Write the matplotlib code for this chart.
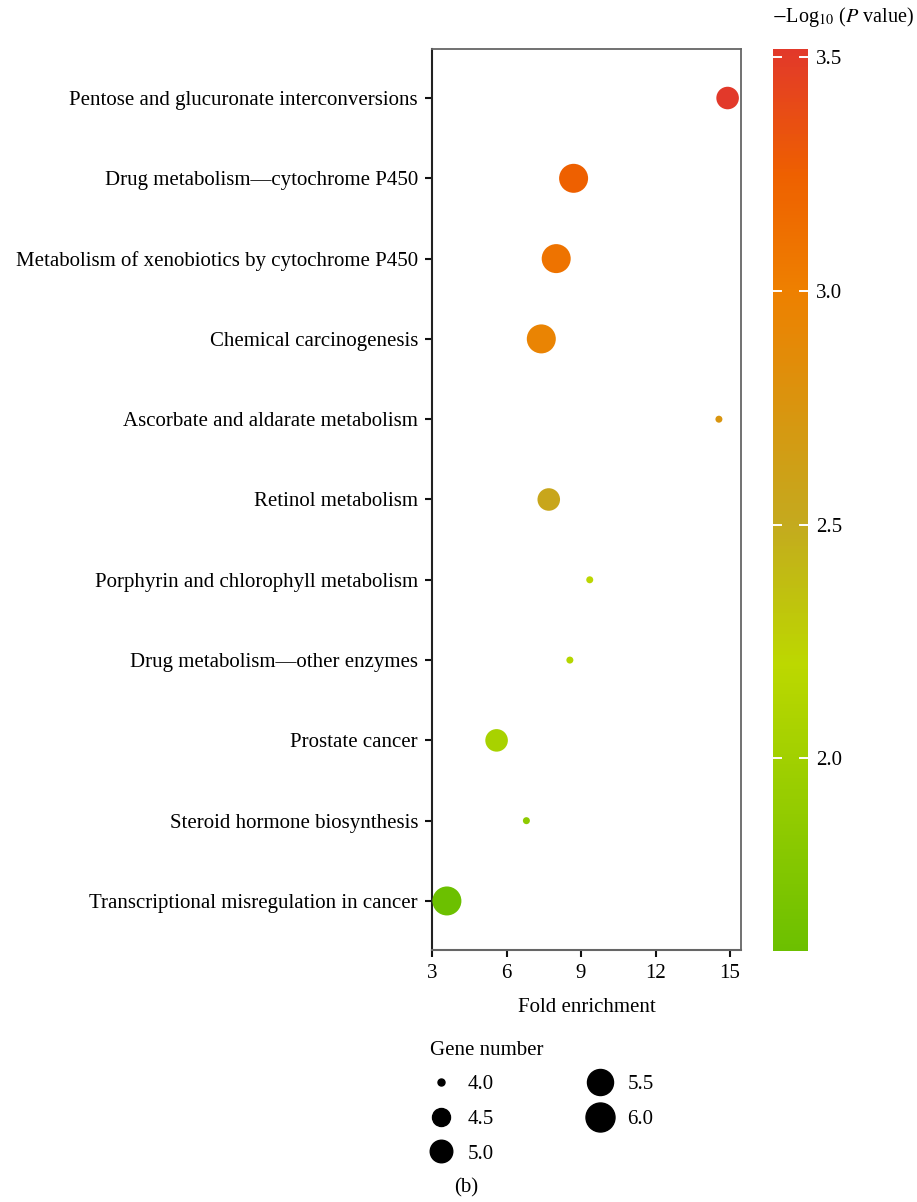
import numpy as np
import matplotlib.pyplot as plt
from matplotlib.colors import LinearSegmentedColormap, Normalize
from matplotlib.lines import Line2D

plt.rcParams['font.family'] = ['Liberation Serif', 'DejaVu Serif']
plt.rcParams['mathtext.fontset'] = 'stix'

pathways = [
    "Pentose and glucuronate interconversions",
    "Drug metabolism\u2014cytochrome P450",
    "Metabolism of xenobiotics by cytochrome P450",
    "Chemical carcinogenesis",
    "Ascorbate and aldarate metabolism",
    "Retinol metabolism",
    "Porphyrin and chlorophyll metabolism",
    "Drug metabolism\u2014other enzymes",
    "Prostate cancer",
    "Steroid hormone biosynthesis",
    "Transcriptional misregulation in cancer",
]
fold_enrichment = [14.9, 8.7, 8.0, 7.4, 14.55, 7.7, 9.35, 8.55, 5.6, 6.8, 3.6]
gene_number = [5, 6, 6, 6, 4, 5, 4, 4, 5, 4, 6]
neg_log_p = [3.517, 3.25, 3.1, 2.95, 2.75, 2.55, 2.22, 2.15, 2.05, 1.85, 1.588]

legend_sizes = [4.0, 4.5, 5.0, 5.5, 6.0]
cbar_ticks = [2.0, 2.5, 3.0, 3.5]
x_ticks = [3, 6, 9, 12, 15]

FS = 15


def marker_area(g, lo=4.0, hi=6.0):
    # area-style size scale: diameter in px grows with sqrt of the rescaled value
    d_px = 7 + 22 * np.sqrt((np.asarray(g, float) - lo) / (hi - lo))
    d_pt = d_px * 72 / 100
    return d_pt ** 2


vmin, vmax = min(neg_log_p), max(neg_log_p)
anchors = [(1.588, '#6cc000'), (2.2, '#bcd800'), (2.5, '#c4aa1e'),
           (3.0, '#ee8000'), (3.25, '#ee6000'), (3.517, '#e2392a')]
cmap = LinearSegmentedColormap.from_list(
    'pval', [((v - vmin) / (vmax - vmin), c) for v, c in anchors])
norm = Normalize(vmin=vmin, vmax=vmax)

fig = plt.figure(figsize=(9.17, 12.02), dpi=100)
ax = fig.add_axes([0.4711, 0.2097, 0.3370, 0.7495])

ypos = np.arange(len(pathways))[::-1]
sc = ax.scatter(fold_enrichment, ypos, s=marker_area(gene_number),
                c=neg_log_p, cmap=cmap, norm=norm, linewidths=0, zorder=3)

ax.set_xlim(3, 15.44)
ax.set_ylim(-0.61, len(pathways) - 1 + 0.61)
ax.set_xticks(x_ticks)
ax.set_yticks(ypos)
ax.set_yticklabels(pathways)
ax.tick_params(axis='both', labelsize=FS, length=5, width=1.5, color='#111')
ax.tick_params(axis='y', pad=5)
ax.tick_params(axis='x', pad=5)
for side in ['top', 'right']:
    ax.spines[side].set_color('#666')
    ax.spines[side].set_linewidth(1.3)
ax.spines['left'].set_color('#222')
ax.spines['left'].set_linewidth(1.5)
ax.spines['bottom'].set_color('#666')
ax.spines['bottom'].set_linewidth(1.5)
ax.set_xlabel('Fold enrichment', fontsize=FS, labelpad=11)

# colour bar
cax = fig.add_axes([0.843, 0.2089, 0.038, 0.7503])
cb = fig.colorbar(sc, cax=cax)
cb.outline.set_visible(False)
cb.set_ticks(cbar_ticks)
cb.set_ticklabels([f'{t:.1f}' for t in cbar_ticks])
cax.tick_params(length=0, labelsize=FS, pad=6)
for t in cbar_ticks:
    cax.plot([0, 0.22], [t, t], color='white', lw=1.4, transform=cax.get_yaxis_transform())
    cax.plot([0.78, 1], [t, t], color='white', lw=1.4, transform=cax.get_yaxis_transform())
fig.text(0.842, 0.986, r'$-$Log$_{10}$ ($P$ value)', fontsize=14.5, ha='left', va='center')

# gene number legend
handles = [Line2D([], [], linestyle='none', marker='o', color='black',
                  markersize=np.sqrt(marker_area(g)), label=f'{g:.1f}')
           for g in legend_sizes]
leg = fig.legend(handles=handles, ncol=2, loc='upper left',
                 bbox_to_anchor=(0.4535, 0.1462), frameon=False, fontsize=FS,
                 title='Gene number', title_fontsize=FS, alignment='left',
                 handlelength=1.0, handletextpad=0.8, columnspacing=4.6,
                 labelspacing=0.72, borderpad=0.2)

fig.text(0.508, 0.012, '(b)', fontsize=FS, ha='center', va='center')

fig.savefig('out.png', dpi=100)
